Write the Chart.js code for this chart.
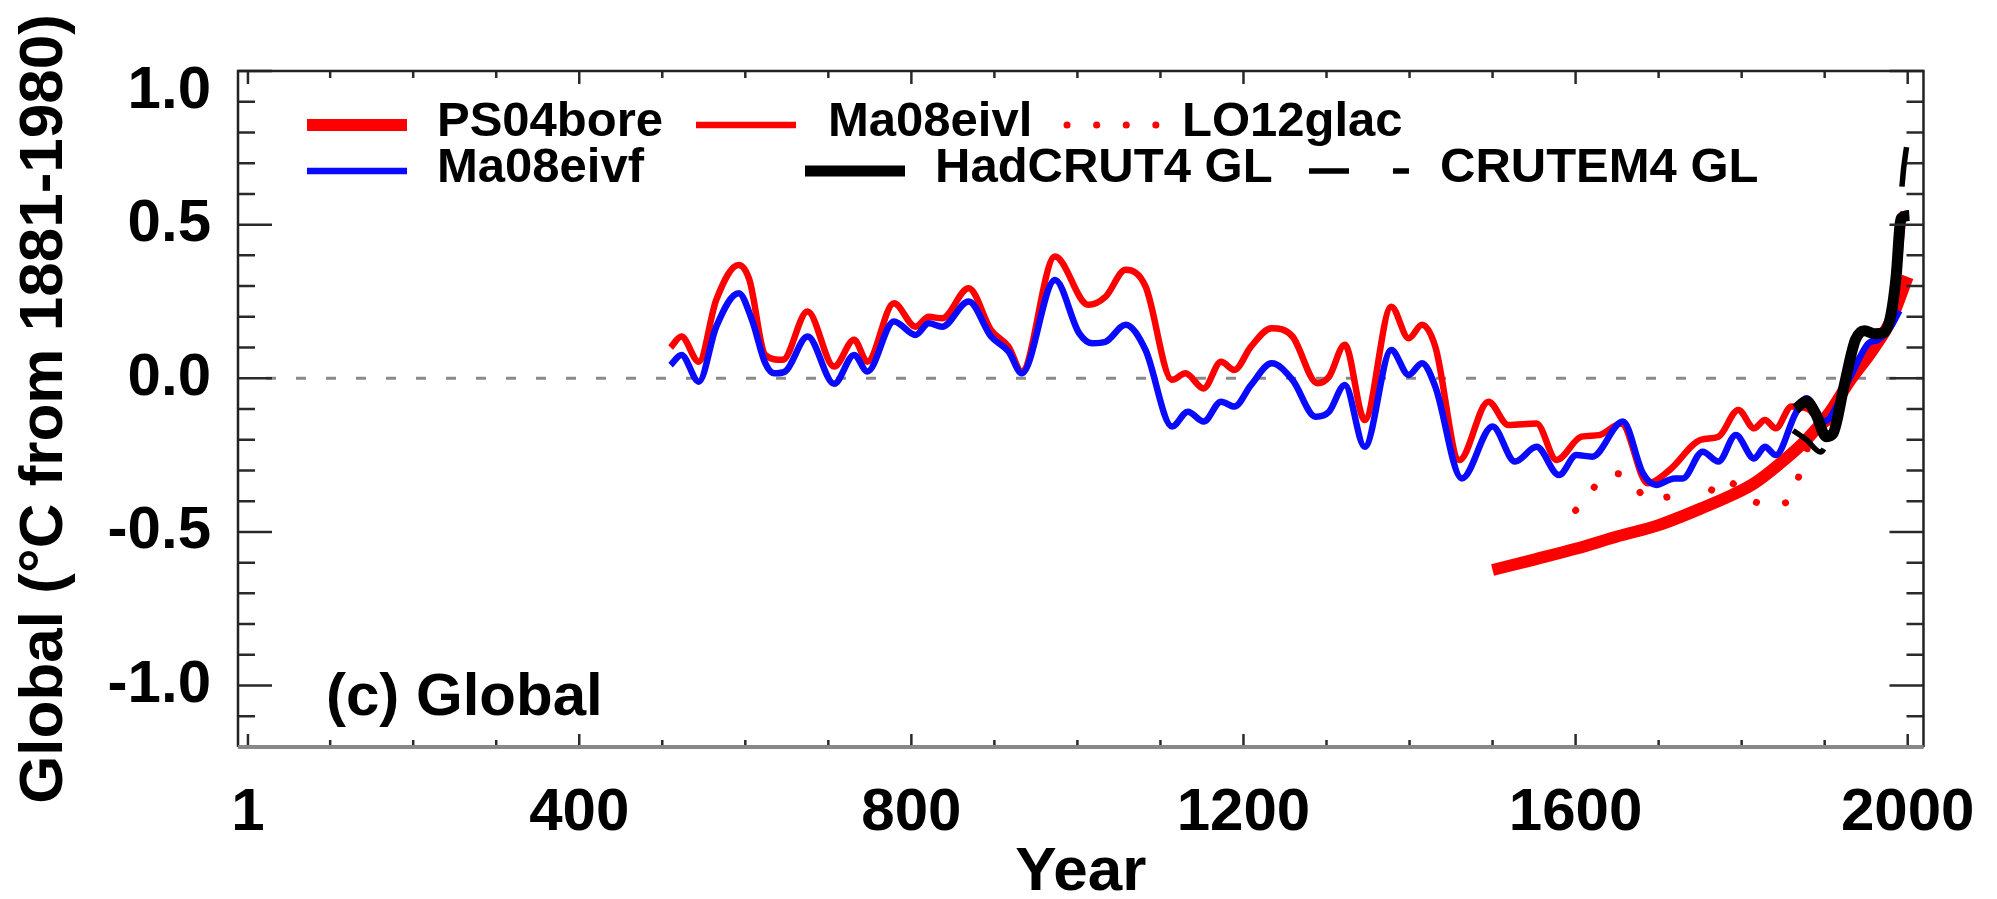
<!DOCTYPE html>
<html>
<head>
<meta charset="utf-8">
<title>Global temperature reconstructions</title>
<script src="https://cdn.jsdelivr.net/npm/chart.js@4.4.1/dist/chart.umd.min.js"></script>
<style>
  html, body { margin: 0; padding: 0; background: #fff; }
  #wrap { width: 1997px; height: 899px; }
</style>
</head>
<body>
<div id="wrap"><canvas id="globalChart" width="1997" height="899"></canvas></div>
<script>
// years (x) and anomalies in °C from 1881-1980 (y)
const ma08eivlYears = [510, 523, 544, 565, 592, 605, 624, 645, 675, 707, 731, 747, 779, 805, 821, 837, 869, 896, 917, 933,
  973, 1013, 1034, 1058, 1082, 1114, 1130, 1152, 1173, 1189, 1209, 1234, 1259, 1289, 1303, 1322, 1346, 1378, 1399, 1415,
  1431, 1460, 1495, 1519, 1553, 1577, 1607, 1628, 1655, 1687, 1713, 1751, 1772, 1796, 1815, 1828, 1841, 1860, 1880, 1900,
  1915, 1932, 1958, 1975, 1988, 1995];
const ma08eivlValues = [0.10, 0.136, 0.054, 0.255, 0.369, 0.32, 0.076, 0.06, 0.217, 0.038, 0.125, 0.054, 0.244, 0.168, 0.20, 0.195, 0.293, 0.157, 0.103, 0.022,
  0.396, 0.239, 0.266, 0.353, 0.299, -0.005, 0.016, -0.033, 0.054, 0.027, 0.103, 0.163, 0.136, -0.016, 0.005, 0.109, -0.136, 0.233, 0.13, 0.174,
  0.103, -0.266, -0.076, -0.152, -0.147, -0.266, -0.19, -0.185, -0.147, -0.342, -0.299, -0.20, -0.19, -0.103, -0.163, -0.136, -0.163, -0.092, -0.10, -0.15,
  -0.10, 0.02, 0.12, 0.17, 0.35, 0.543];

const ma08eivfYears = [510, 523, 544, 565, 592, 608, 624, 635, 648, 675, 707, 731, 747, 779, 805, 821, 837, 869, 896, 917,
  933, 973, 1002, 1018, 1034, 1058, 1082, 1114, 1133, 1152, 1173, 1189, 1209, 1234, 1259, 1287, 1303, 1322, 1346, 1378,
  1399, 1415, 1431, 1463, 1500, 1527, 1553, 1580, 1601, 1620, 1657, 1681, 1697, 1719, 1729, 1753, 1772, 1793, 1815, 1828,
  1841, 1865, 1878, 1900, 1930, 1953, 1964, 1980, 1990];
const ma08eivfValues = [0.043, 0.076, -0.011, 0.168, 0.277, 0.19, 0.049, 0.016, 0.022, 0.136, -0.018, 0.076, 0.022, 0.185, 0.141, 0.179, 0.168, 0.25, 0.136, 0.087,
  0.016, 0.32, 0.147, 0.114, 0.119, 0.174, 0.092, -0.157, -0.109, -0.141, -0.076, -0.092, -0.022, 0.049, -0.005, -0.125, -0.109, -0.022, -0.223, 0.092,
  0.011, 0.049, -0.027, -0.326, -0.157, -0.271, -0.223, -0.315, -0.25, -0.255, -0.141, -0.309, -0.347, -0.326, -0.326, -0.239, -0.271, -0.185, -0.261, -0.223,
  -0.25, -0.114, -0.065, -0.14, 0.0, 0.114, 0.125, 0.17, 0.22];

const ps04boreYears = [1500, 1550, 1600, 1650, 1700, 1750, 1790, 1815, 1845, 1878, 1905, 1930, 1958, 1980, 2000];
const ps04boreValues = [-0.624, -0.59, -0.555, -0.515, -0.478, -0.425, -0.378, -0.342, -0.28, -0.20, -0.114, -0.01, 0.092, 0.19, 0.33];

const lo12glacYears = [1600, 1614, 1625, 1636, 1648, 1661, 1672, 1682, 1698, 1714, 1730, 1745, 1760, 1775, 1788, 1800,
  1815, 1828, 1842, 1856, 1870, 1880];
const lo12glacValues = [-0.43, -0.39, -0.345, -0.317, -0.31, -0.32, -0.35, -0.385, -0.395, -0.385, -0.41, -0.43, -0.38, -0.324, -0.34, -0.365,
  -0.40, -0.41, -0.41, -0.40, -0.31, -0.22];

const hadcrut4Years = [1865, 1878, 1889, 1902, 1910, 1923, 1937, 1948, 1960, 1972, 1980, 1986, 1992, 2002];
const hadcrut4Values = [-0.10, -0.075, -0.115, -0.19, -0.18, -0.03, 0.125, 0.155, 0.145, 0.15, 0.21, 0.33, 0.52, 0.53];

const crutem4Years = [1862, 1878, 1895, 1905, 1910, 1923, 1937, 1948, 1960, 1972, 1980, 1986, 1990, 1993, 2000];
const crutem4Values = [-0.17, -0.20, -0.24, -0.20, -0.18, -0.03, 0.125, 0.155, 0.145, 0.15, 0.21, 0.33, 0.45, 0.62, 0.78];

const xTickYears = [1, 400, 800, 1200, 1600, 2000];
const yTickValues = [-1.0, -0.5, 0.0, 0.5, 1.0];

const FONT = '"Liberation Sans", Arial, Helvetica, sans-serif';
const RED = '#ff0000';
const BLUE = '#0a0aff';

const toPoints = (years, values) => years.map((yr, i) => ({ x: yr, y: values[i] }));

// legend in two rows, drawn the IDL way (sample line then label)
const legendItems = [
  { label: 'PS04bore', lineX: 307, textX: 437, row: 0 },
  { label: 'Ma08eivl', lineX: 696, textX: 828, row: 0 },
  { label: 'LO12glac', lineX: 1067, textX: 1182, row: 0, lineLen: 92 },
  { label: 'Ma08eivf', lineX: 307, textX: 437, row: 1 },
  { label: 'HadCRUT4 GL', lineX: 805, textX: 935, row: 1 },
  { label: 'CRUTEM4 GL', lineX: 1309, textX: 1440, row: 1 }
];
const legendRows = [{ lineY: 125, baseY: 136 }, { lineY: 171, baseY: 182 }];

const idlFramePlugin = {
  id: 'idlFrame',
  beforeDatasetsDraw(chart) {
    const { ctx, chartArea: a, scales: { y } } = chart;
    const y0 = y.getPixelForValue(0);
    ctx.save();
    ctx.strokeStyle = '#8a8a8a';
    ctx.lineWidth = 3;
    ctx.setLineDash([10, 20]);
    ctx.beginPath();
    ctx.moveTo(a.left + 28, y0);
    ctx.lineTo(a.right, y0);
    ctx.stroke();
    ctx.restore();
  },
  afterDatasetsDraw(chart) {
    const { ctx, chartArea: a, scales: { x, y } } = chart;
    ctx.save();

    // ticks pointing inward on all four sides
    ctx.strokeStyle = '#2a2a2a';
    ctx.lineWidth = 2.5;
    ctx.beginPath();
    for (let k = -12; k <= 10; k++) {
      const py = y.getPixelForValue(k / 10);
      const len = k % 5 === 0 ? 34 : 17;
      ctx.moveTo(a.left, py); ctx.lineTo(a.left + len, py);
      ctx.moveTo(a.right, py); ctx.lineTo(a.right - len, py);
    }
    const minorYears = [];
    for (let yr = 100; yr <= 1900; yr += 100) minorYears.push(yr);
    minorYears.concat(xTickYears).forEach(yr => {
      const px = x.getPixelForValue(yr);
      const len = xTickYears.includes(yr) ? 13 : 7;
      ctx.moveTo(px, a.bottom); ctx.lineTo(px, a.bottom - len);
      ctx.moveTo(px, a.top); ctx.lineTo(px, a.top + len);
    });
    ctx.stroke();

    // frame
    ctx.strokeStyle = '#222';
    ctx.lineWidth = 2.5;
    ctx.beginPath();
    ctx.moveTo(a.left, a.bottom); ctx.lineTo(a.left, a.top);
    ctx.lineTo(a.right, a.top); ctx.lineTo(a.right, a.bottom);
    ctx.stroke();
    ctx.strokeStyle = '#888';
    ctx.lineWidth = 4;
    ctx.beginPath();
    ctx.moveTo(a.left, a.bottom); ctx.lineTo(a.right, a.bottom);
    ctx.stroke();

    // legend
    ctx.fillStyle = '#000';
    ctx.font = 'bold 49px ' + FONT;
    ctx.textBaseline = 'alphabetic';
    ctx.textAlign = 'left';
    legendItems.forEach(item => {
      const ds = chart.data.datasets.find(d => d.label === item.label);
      const row = legendRows[item.row];
      ctx.save();
      ctx.strokeStyle = ds.borderColor;
      ctx.lineWidth = ds.borderWidth;
      ctx.lineCap = ds.borderCapStyle || 'butt';
      ctx.setLineDash(ds.borderDash || []);
      ctx.beginPath();
      ctx.moveTo(item.lineX, row.lineY);
      ctx.lineTo(item.lineX + (item.lineLen || 100), row.lineY);
      ctx.stroke();
      ctx.restore();
      ctx.fillText(item.label, item.textX, row.baseY);
    });

    // panel label
    ctx.font = 'bold 60px ' + FONT;
    ctx.fillText('(c) Global', 326, 715);

    // y axis title (longer than the plot height, so drawn here)
    ctx.translate(45, (a.top + a.bottom) / 2);
    ctx.rotate(-Math.PI / 2);
    ctx.font = 'bold 62px ' + FONT;
    ctx.textAlign = 'center';
    ctx.textBaseline = 'middle';
    ctx.fillText('Global (\u00B0C from 1881-1980)', 0, 0);
    ctx.restore();
  }
};

new Chart(document.getElementById('globalChart'), {
  type: 'line',
  data: {
    datasets: [
      { label: 'HadCRUT4 GL', data: toPoints(hadcrut4Years, hadcrut4Values), borderColor: '#000', borderWidth: 11 },
      { label: 'CRUTEM4 GL', data: toPoints(crutem4Years, crutem4Values), borderColor: '#000', borderWidth: 5.5, borderDash: [40, 44] },
      { label: 'Ma08eivf', data: toPoints(ma08eivfYears, ma08eivfValues), borderColor: BLUE, borderWidth: 6.5 },
      { label: 'Ma08eivl', data: toPoints(ma08eivlYears, ma08eivlValues), borderColor: RED, borderWidth: 6.5 },
      { label: 'LO12glac', data: toPoints(lo12glacYears, lo12glacValues), borderColor: RED, borderWidth: 7,
        borderDash: [0.1, 29.5], borderCapStyle: 'round' },
      { label: 'PS04bore', data: toPoints(ps04boreYears, ps04boreValues), borderColor: RED, borderWidth: 12 }
    ]
  },
  options: {
    responsive: false,
    animation: false,
    devicePixelRatio: 1,
    layout: { padding: { left: 0, right: 59, top: 71, bottom: 0 } },
    elements: {
      point: { radius: 0, hoverRadius: 0 },
      line: { cubicInterpolationMode: 'monotone', borderJoinStyle: 'round', fill: false }
    },
    plugins: {
      legend: { display: false },
      tooltip: { enabled: false }
    },
    scales: {
      x: {
        type: 'linear',
        min: -11,
        max: 2019,
        grid: { display: false },
        border: { display: false },
        afterBuildTicks: scale => { scale.ticks = xTickYears.map(v => ({ value: v })); },
        afterFit: scale => { scale.height = 152; },
        ticks: {
          autoSkip: false,
          maxRotation: 0,
          padding: 22,
          color: '#000',
          font: { family: FONT, size: 60, weight: 'bold' },
          callback: v => String(v)
        },
        title: {
          display: true,
          text: 'Year',
          color: '#000',
          font: { family: FONT, size: 62, weight: 'bold', lineHeight: 0.8 },
          padding: { top: 0, bottom: 1 }
        }
      },
      y: {
        min: -1.2,
        max: 1.0,
        grid: { display: false },
        border: { display: false },
        afterBuildTicks: scale => { scale.ticks = yTickValues.map(v => ({ value: v })); },
        afterFit: scale => { scale.width = 238; },
        ticks: {
          padding: 19,
          color: '#000',
          // the top label sits a little below its tick in the original
          font: c => ({ family: FONT, size: 60, weight: 'bold',
            lineHeight: c.tick && c.tick.value === 1 ? 0.67 : 1.2 }),
          callback: v => (v === 1 ? ['', '1.0'] : v.toFixed(1))
        }
      }
    }
  },
  plugins: [idlFramePlugin]
});
</script>
</body>
</html>
